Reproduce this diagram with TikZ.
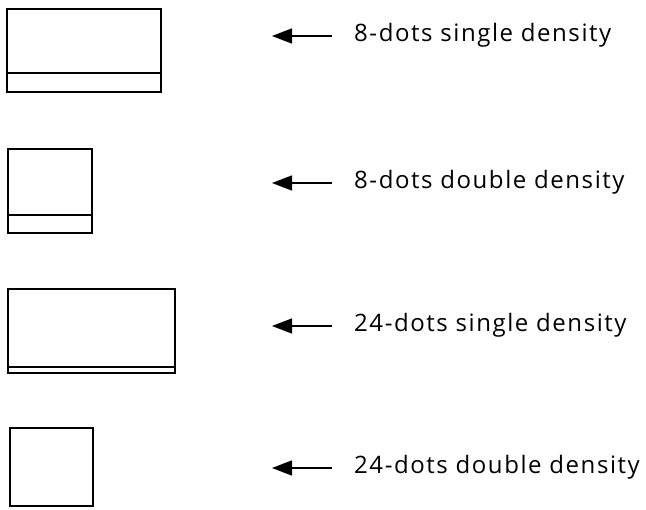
\documentclass[tikz,border=0pt]{standalone}
\usepackage{fontspec}
\newfontfamily\capfont[LetterSpace=6.5]{Open Sans}
\usetikzlibrary{arrows.meta}

\begin{document}
\begin{tikzpicture}[x=1pt,y=-1pt]
\tikzset{
  boxline/.style={line width=2.5pt},
  splitline/.style={line width=1.6pt},
  pointer/.style={line width=1.4pt,{Triangle[length=20pt,width=15pt]}-},
  caption/.style={anchor=base west,inner sep=0pt,font=\capfont\fontsize{24}{28}\selectfont}
}
\useasboundingbox (0,0) rectangle (646,510);

% Draw the four print blocks
\draw[boxline] (7,9) rectangle (161,92);
\draw[splitline] (7,73) -- (161,73);

\draw[boxline] (8,149) rectangle (92,233);
\draw[splitline] (8,215) -- (92,215);

\draw[boxline] (8,289) rectangle (175,373);
\draw[splitline] (8,367) -- (175,367);

\draw[boxline] (10,428) rectangle (93,506);

% Captions with their arrows
\node[caption] (ssd8)  at (354,42)  {8-dots single density};
\node[caption] (dsd8)  at (354,189) {8-dots double density};
\node[caption] (ssd24) at (354,332) {24-dots single density};
\node[caption] (dsd24) at (354,474) {24-dots double density};

\coordinate (tip1) at (272,36);
\coordinate (tip2) at (272,183);
\coordinate (tip3) at (272,326);
\coordinate (tip4) at (272,468);

\draw[pointer] (tip1) -- (332,36);
\draw[pointer] (tip2) -- (332,183);
\draw[pointer] (tip3) -- (332,326);
\draw[pointer] (tip4) -- (332,468);

\end{tikzpicture}
\end{document}
